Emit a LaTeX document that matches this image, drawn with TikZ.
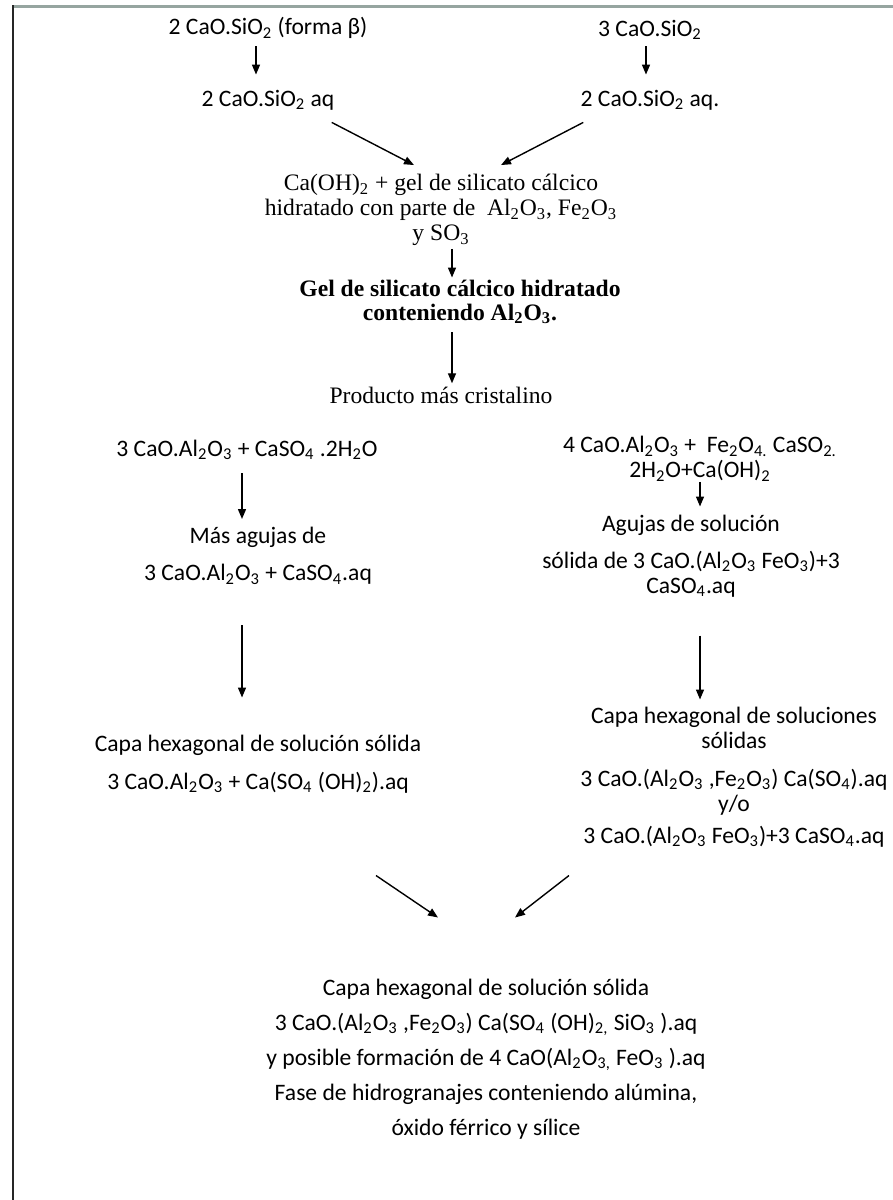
\documentclass[tikz,border=0pt]{standalone}
\usepackage{fontspec}
\setmainfont{Carlito}
\newfontfamily\timesfont{Liberation Serif}
\usetikzlibrary{arrows.meta, positioning, calc}
\definecolor{marco}{RGB}{150,165,160}
\newcommand{\sbs}[1]{\textsubscript{#1}}

\begin{document}
\begin{tikzpicture}[
    x=0.5pt, y=-0.5pt,
    txt/.style={align=center, inner sep=1pt, font=\fontsize{11.8}{12.5}\selectfont},
    serif/.style={align=center, inner sep=1pt, font=\timesfont\fontsize{11.8}{12.4}\selectfont},
    serifbf/.style={align=center, inner sep=1pt, font=\timesfont\bfseries\fontsize{11.8}{12}\selectfont},
    arrow/.style={line width=0.7pt, -{Triangle[length=5pt,width=4pt]}}
]
\useasboundingbox (0,0) rectangle (893,1200);
% marco
\draw[line width=1.5pt, marco] (12,6) -- (893,6);
\draw[line width=1pt, black!85] (12.5,5) -- (12.5,1200);

% silicatos
\node[txt] (dos) at (268,28) {2 CaO.SiO\sbs{2} (forma β)};
\node[txt] (tres) at (650,30) {3 CaO.SiO\sbs{2}};
\node[txt] (dosaq) at (268,100) {2 CaO.SiO\sbs{2} aq};
\node[txt] (tresaq) at (650,100) {2 CaO.SiO\sbs{2} aq.};
\node[serif] (gel) at (441,210) {Ca(OH)\sbs{2} + gel de silicato cálcico\\ hidratado con parte de~ Al\sbs{2}O\sbs{3}, Fe\sbs{2}O\sbs{3}\\ y SO\sbs{3}};
\node[serifbf] (gelal) at (460,302) {Gel de silicato cálcico hidratado\\ conteniendo Al\sbs{2}O\sbs{3}.};
\node[serif] (prod) at (441,395) {Producto más cristalino};

% aluminatos
\node[txt] (c3a) at (247,450) {3 CaO.Al\sbs{2}O\sbs{3} + CaSO\sbs{4} .2H\sbs{2}O};
\node[txt] (c4af) at (700,459) {4 CaO.Al\sbs{2}O\sbs{3} +~ Fe\sbs{2}O\sbs{4.} CaSO\sbs{2.}\\ 2H\sbs{2}O+Ca(OH)\sbs{2}};
\node[txt] (agL) at (258,556) {Más agujas de\\[6pt] 3 CaO.Al\sbs{2}O\sbs{3} + CaSO\sbs{4}.aq};
\node[txt] (agR) at (691,556) {Agujas de solución\\[6pt] sólida de 3 CaO.(Al\sbs{2}O\sbs{3} FeO\sbs{3})+3\\ CaSO\sbs{4}.aq};
\node[txt] (hexL) at (258,764) {Capa hexagonal de solución sólida\\[6.5pt] 3 CaO.Al\sbs{2}O\sbs{3} + Ca(SO\sbs{4} (OH)\sbs{2}).aq};
\node[txt] (hexR) at (734,777) {Capa hexagonal de soluciones\\ sólidas\\[6.5pt] 3 CaO.(Al\sbs{2}O\sbs{3} ,Fe\sbs{2}O\sbs{3}) Ca(SO\sbs{4}).aq\\ y/o\\[3.5pt] 3 CaO.(Al\sbs{2}O\sbs{3} FeO\sbs{3})+3 CaSO\sbs{4}.aq};
\node[txt] (fin) at (486,1059) {Capa hexagonal de solución sólida\\[5pt] 3 CaO.(Al\sbs{2}O\sbs{3} ,Fe\sbs{2}O\sbs{3}) Ca(SO\sbs{4} (OH)\sbs{2,} SiO\sbs{3} ).aq\\[5pt] y posible formación de 4 CaO(Al\sbs{2}O\sbs{3,} FeO\sbs{3} ).aq\\[5pt] Fase de hidrogranajes conteniendo alúmina,\\[5pt] óxido férrico y sílice};

% flechas
\draw[arrow] ($(dos.south)+(-12,5)$) -- ($(dosaq.north)+(-12,-13)$);
\draw[arrow] ($(tres.south)+(-4,4)$) -- ($(tresaq.north)+(-4,-13)$);
\draw[arrow] ($(dosaq.south east)+(-5,10)$) -- ($(gel.north)+(-27,-7)$);
\draw[arrow] ($(tresaq.south west)+(5,10)$) -- ($(gel.north)+(60,-7)$);
\draw[arrow] ($(gel.south)+(11,1)$) -- ($(gelal.north)+(-8,0)$);
\draw[arrow] ($(gelal.south)+(-8,6)$) -- ($(prod.north)+(11,-1)$);
\draw[arrow] ($(c3a.south)+(-5,11)$) -- ($(agL.north)+(-16,-6)$);
\draw[arrow] ($(c4af.south)+(0,-2)$) -- ($(agR.north)+(9,-6)$);
\draw[arrow] ($(agL.south)+(-16,38)$) -- ($(hexL.north)+(-16,-35)$);
\draw[arrow] ($(agR.south)+(9,36)$) -- ($(hexR.north)+(-34,-5)$);
\draw[arrow] ($(fin.north)+(-110,-101)$) -- ($(fin.north)+(-48,-59)$);
\draw[arrow] ($(fin.north)+(83,-101)$) -- ($(fin.north)+(29,-59)$);
\end{tikzpicture}
\end{document}
